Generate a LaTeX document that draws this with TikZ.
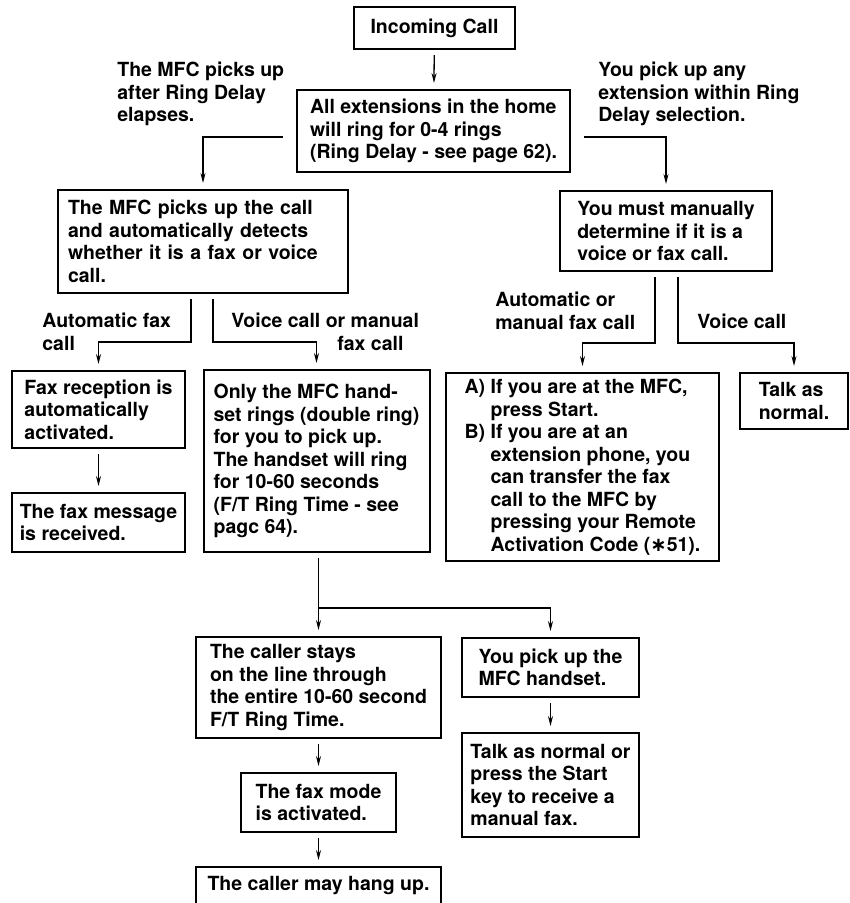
\documentclass[tikz,border=0pt]{standalone}
\usepackage{fontspec}
\setmainfont{TeX Gyre Heros}
\newfontfamily\symfont{DejaVu Sans}
\usetikzlibrary{arrows.meta}

\begin{document}
\begin{tikzpicture}[x=1pt, y=1pt, thick, font=\fontsize{19.5}{22.5}\selectfont\bfseries]
\tikzset{%
	box/.style = {draw, rectangle, line width=2pt, align=left, inner sep=0pt},
	lbl/.style = {align=left, inner sep=0pt, anchor=north west},
	con/.style = {->, shorten >=6pt, shorten <=5pt, line width=1.3pt, >={Stealth[length=10pt,width=5pt]}}
}
\useasboundingbox (0,0) rectangle (850,-903);

% Top of the chart

\draw node at (434.5,-28) [box, minimum width=161pt, minimum height=42pt] (in) {Incoming Call};
\draw node at (433.5,-131) [box, minimum width=273pt, minimum height=82pt] (all)
{All extensions in the home\\will ring for 0-4 rings\\(Ring Delay - see page 62).};

\draw node at (117,-62) [lbl] (lmfc) {The MFC picks up\\after Ring Delay\\elapses.};
\draw node at (598,-62) [lbl] (lyou) {You pick up any\\extension within Ring\\Delay selection.};

\draw node at (203,-241.5) [box, text width=270pt, minimum width=290pt, minimum height=103pt] (mfc)
{The MFC picks up the call\\and automatically detects\\whether it is a fax or voice\\call.};
\draw node at (666,-231) [box, minimum width=212pt, minimum height=80pt] (man)
{You must manually\\determine if it is a\\voice or fax call.};

% MFC branch

\draw node at (42,-313) [lbl] (lauto) {Automatic fax\\call};
\draw node at (231,-313) [lbl] (lvoice) {Voice call or manual\\\hspace*{106pt}fax call};

\draw node at (98.5,-409.5) [box, minimum width=173pt, minimum height=77pt] (frx)
{Fax reception is\\automatically\\activated.};
\draw node at (98.5,-522.5) [box, minimum width=173pt, minimum height=59pt] (fmsg)
{The fax message\\is received.};
\draw node at (316.5,-461) [box, minimum width=226pt, minimum height=182pt] (only)
{Only the MFC hand-\\set rings (double ring)\\for you to pick up.\\The handset will ring\\for 10-60 seconds\\(F/T Ring Time - see\\pagc 64).};

% Manual branch

\draw node at (495,-292) [lbl] (lman) {Automatic or\\manual fax call};
\draw node at (697,-314) [lbl] (lvc) {Voice call};

\draw node at (582.5,-467) [box, minimum width=273pt, minimum height=188pt] (ab)
{A) If you are at the MFC,\\\hspace*{26pt}press Start.\\B) If you are at an\\\hspace*{26pt}extension phone, you\\\hspace*{26pt}can transfer the fax\\\hspace*{26pt}call to the MFC by\\\hspace*{26pt}pressing your Remote\\\hspace*{26pt}Activation Code ({\symfont ∗}51).};
\draw node at (794,-401) [box, minimum width=108pt, minimum height=56pt] (talk)
{Talk as\\normal.};

% Bottom of the chart

\draw node at (318.5,-687.5) [box, minimum width=245pt, minimum height=101pt] (caller)
{The caller stays\\on the line through\\the entire 10-60 second\\F/T Ring Time.};
\draw node at (318.5,-802.5) [box, minimum width=155pt, minimum height=59pt] (mode)
{The fax mode\\is activated.};
\draw node at (318.5,-885.5) [box, minimum width=245pt, minimum height=37pt] (hang)
{The caller may hang up.};
\draw node at (550.5,-667.5) [box, minimum width=177pt, minimum height=59pt] (pick)
{You pick up the\\MFC handset.};
\draw node at (550.5,-785) [box, minimum width=177pt, minimum height=104pt] (tnorm)
{Talk as normal or\\press the Start\\key to receive a\\manual fax.};

\coordinate (split) at (318.5,-608);

\draw[con] (in) -- (all);
\draw[con, shorten <=13pt] ([yshift=-6pt]all.west) -| (mfc.north);
\draw[con, shorten <=13pt] ([yshift=-6pt]all.east) -| (man.north);
\draw[con] ([xshift=-12pt]mfc.south) -- ++(0,-48) -| (frx.north);
\draw[con] ([xshift=10pt]mfc.south) -- ++(0,-48) -| (only.north);
\draw[con] ([xshift=-11pt]man.south) -- ++(0,-71) -| (ab.north);
\draw[con] ([xshift=12pt]man.south) -- ++(0,-71) -| (talk.north);
\draw[con] (frx) -- (fmsg);
\draw[con] (caller.north |- only.south) -- (caller.north);
\draw[con, shorten <=0pt] (split) -| (pick.north);
\draw[con] (caller) -- (mode);
\draw[con] (mode) -- (hang);
\draw[con] (pick) -- (tnorm);

\end{tikzpicture}
\end{document}
